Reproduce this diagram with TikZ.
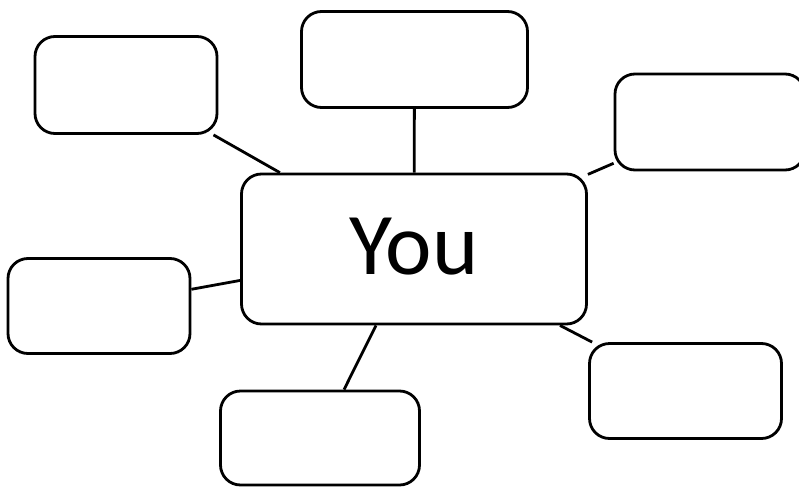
\documentclass[tikz,border=0pt]{standalone}
\usepackage{fontspec}
\setmainfont{Carlito}
\begin{document}
\begin{tikzpicture}[x=1pt, y=-1pt,
    box/.style={draw, line width=2.8pt, rounded corners=20pt, inner sep=0pt, fill=white},
    link/.style={line width=2.8pt}]
  \useasboundingbox (0,0) rectangle (799,487);

  % Central box
  \node[box, minimum width=345pt, minimum height=150pt, text depth=6pt,
        font=\fontsize{88}{100}\selectfont] (you) at (414,249) {You};

  % Empty boxes around it
  \node[box, minimum width=182pt, minimum height=97pt] (topleft) at (126,85) {};
  \node[box, minimum width=226pt, minimum height=96pt] (top) at (414.5,59.5) {};
  \node[box, minimum width=190pt, minimum height=96pt] (topright) at (710,122) {};
  \node[box, minimum width=182pt, minimum height=95pt] (left) at (99,306) {};
  \node[box, minimum width=199pt, minimum height=94pt] (bottom) at (320,438) {};
  \node[box, minimum width=192pt, minimum height=95pt] (bottomright) at (685.5,391) {};

  % Connectors
  \draw[link] (you) -- (topleft);
  \draw[link] (you) -- (top);
  \draw[link] (you) -- (topright);
  \draw[link] (you) -- (left);
  \draw[link] (you) -- (bottom);
  \draw[link] (you) -- (bottomright);
\end{tikzpicture}
\end{document}
